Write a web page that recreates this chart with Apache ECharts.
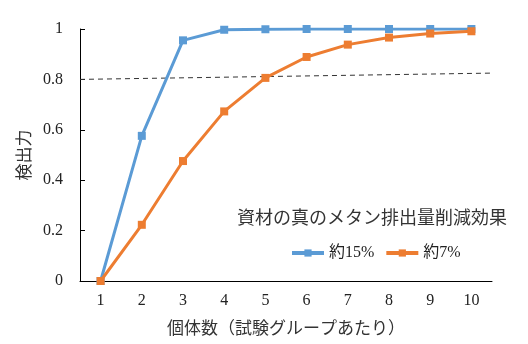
<!DOCTYPE html>
<html><head><meta charset="utf-8">
<script src="https://cdn.jsdelivr.net/npm/echarts@6/dist/echarts.min.js"></script>
<style>html,body{margin:0;padding:0;background:#fff}#c{width:528px;height:344px}</style>
</head><body><div id="c"></div>
<script>
const categories = ['1','2','3','4','5','6','7','8','9','10'];
const seriesNames = ['約15%', '約7%'];
const power15 = [0, 0.576, 0.955, 0.997, 0.999, 1.0, 1.0, 1.0, 1.0, 1.0];
const power7 = [0, 0.223, 0.476, 0.673, 0.806, 0.889, 0.938, 0.966, 0.982, 0.991];
const thresholdX = [0, 1];
const thresholdY = [0.8, 0.825];
const legendTitle = '資材の真のメタン排出量削減効果';
const xName = '個体数（試験グループあたり）';
const yName = '検出力';

const serif = 'Liberation Serif, Noto Sans CJK JP';
const cjk = 'Noto Sans CJK JP';
const chart = echarts.init(document.getElementById('c'));
chart.setOption({
  animation: false,
  backgroundColor: '#fff',
  title: { text: legendTitle, left: 232, top: 203,
    textStyle: { fontSize: 18, fontWeight: 'normal', color: '#333', fontFamily: cjk } },
  legend: { data: seriesNames, left: 285, top: 240, itemWidth: 32, itemHeight: 9, itemGap: 10,
    lineStyle: { width: 4 },
    textStyle: { fontSize: 16, color: '#222', fontFamily: serif } },
  grid: { left: 80, right: 36, top: 29, bottom: 63 },
  xAxis: [{
    type: 'category', data: categories, boundaryGap: true,
    axisLine: { lineStyle: { color: '#000', width: 1 } },
    axisTick: { show: false },
    axisLabel: { color: '#222', fontSize: 16, fontFamily: serif, margin: 12 },
    name: xName, nameLocation: 'middle', nameGap: 38,
    nameTextStyle: { fontSize: 17, color: '#333', fontFamily: cjk }
  }, {
    type: 'value', min: 0, max: 1, show: false
  }],
  yAxis: {
    type: 'value', min: 0, max: 1, interval: 0.2,
    axisLine: { show: true, lineStyle: { color: '#000', width: 1 } },
    axisTick: { show: true, inside: true, length: 5, lineStyle: { color: '#000' } },
    splitLine: { show: false },
    axisLabel: { color: '#222', fontSize: 16, fontFamily: serif, margin: 17 },
    name: yName, nameLocation: 'middle', nameGap: 46, nameRotate: 90,
    nameTextStyle: { fontSize: 17, color: '#333', fontFamily: cjk }
  },
  series: [
    { name: seriesNames[0], type: 'line', data: power15, symbol: 'rect', symbolSize: 8,
      itemStyle: { color: '#5B9BD5' }, lineStyle: { color: '#5B9BD5', width: 3 }, z: 3 },
    { name: seriesNames[1], type: 'line', data: power7, symbol: 'rect', symbolSize: 8,
      itemStyle: { color: '#ED7D31' }, lineStyle: { color: '#ED7D31', width: 3 }, z: 4 },
    { name: 'threshold', type: 'line', xAxisIndex: 1,
      data: thresholdX.map((x, i) => [x, thresholdY[i]]), symbol: 'none',
      lineStyle: { color: '#333', width: 1, type: [5, 4] }, z: 2, silent: true }
  ]
});
</script></body></html>
